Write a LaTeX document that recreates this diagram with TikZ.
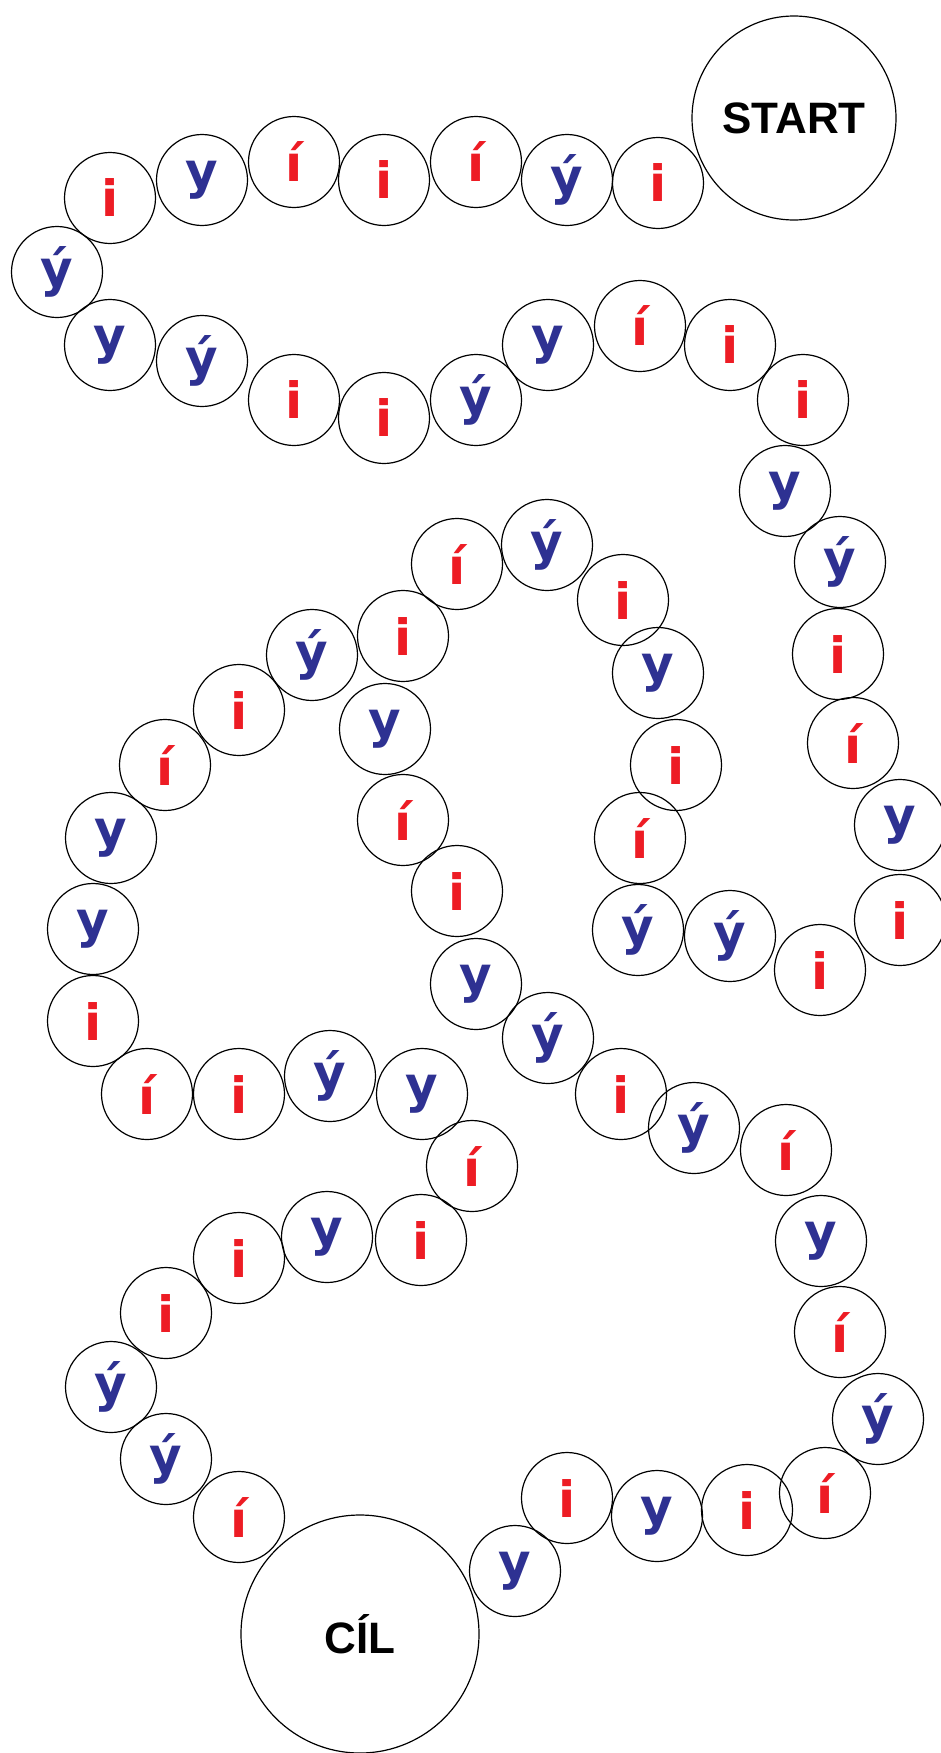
\documentclass[tikz,border=0pt]{standalone}
\usepackage{fontspec}
\newfontfamily\letterfont{DejaVu Sans}
\newfontfamily\titlefont{Liberation Sans}
\definecolor{letred}{RGB}{237,28,36}
\definecolor{letblue}{RGB}{46,49,146}
\tikzset{
  field/.style={circle,draw=black,line width=1.2pt,minimum size=91pt,inner sep=0pt,
    font=\letterfont\bfseries\fontsize{50}{50}\selectfont},
  ri/.style={field,text=letred},
  by/.style={field,text=letblue},
  bigfield/.style={circle,draw=black,line width=1.2pt,inner sep=0pt,
    font=\titlefont\bfseries\fontsize{44}{44}\selectfont}
}
\begin{document}
\begin{tikzpicture}[x=1pt,y=-1pt]
\useasboundingbox (0,0) rectangle (940,1753);
\node[bigfield,minimum size=204pt] (start) at (794,118) {START};
\node[bigfield,minimum size=238pt] (cil) at (360,1634) {CÍL};
\foreach \n/\x/\y/\s/\l in {
 p1/658/183/ri/i, p2/567/180/by/ý, p3/476/162/ri/í, p4/384/180/ri/i,
 p5/294/162/ri/í, p6/202/180/by/y, p7/110/198/ri/i, p8/57/272/by/ý,
 p9/110/345/by/y, p10/202/361/by/ý, p11/294/400/ri/i, p12/384/418/ri/i,
 p13/476/400/by/ý, p14/548/345/by/y, p15/640/326/ri/í, p16/730/345/ri/i,
 p17/803/400/ri/i, p18/785/491/by/y, p19/840/562/by/ý, p20/838/654/ri/i,
 p21/853/743/ri/í, p22/900/825/by/y, p23/900/920/ri/i, p24/820/970/ri/i,
 p25/730/936/by/ý, p26/638/930/by/ý, p27/640/838/ri/í, p28/676/765/ri/i,
 p29/658/673/by/y, p30/623/600/ri/i, p31/547/545/by/ý, p32/457/564/ri/í,
 p33/403/636/ri/i, p34/312/655/by/ý, p35/239/710/ri/i, p36/165/765/ri/í,
 p37/111/838/by/y, p38/93/929/by/y, p39/93/1021/ri/i, p40/147/1094/ri/í,
 p41/239/1094/ri/i, p42/330/1076/by/ý, p43/422/1094/by/y, p44/472/1166/ri/í,
 p45/421/1240/ri/i, p46/327/1237/by/y, p47/239/1258/ri/i, p48/166/1313/ri/i,
 p49/111/1387/by/ý, p50/166/1459/by/ý, p51/239/1517/ri/í,
 q1/385/729/by/y, q2/403/820/ri/í, q3/457/891/ri/i, q4/476/984/by/y,
 q5/548/1038/by/ý, q6/621/1094/ri/i, q7/694/1128/by/ý, q8/786/1150/ri/í,
 q9/821/1241/by/y, q10/840/1332/ri/í, q11/878/1419/by/ý, q12/825/1493/ri/í,
 q13/747/1510/ri/i, q14/657/1516/by/y, q15/567/1498/ri/i, q16/515/1571/by/y}
 {\node[\s] (\n) at (\x,\y) {\l};}
\end{tikzpicture}
\end{document}
